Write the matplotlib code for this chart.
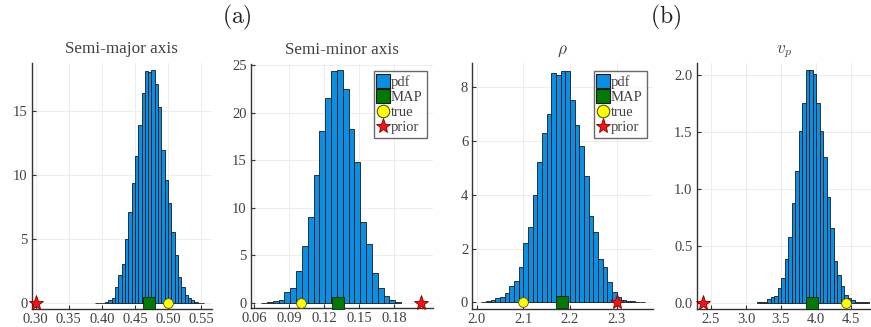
import numpy as np
import matplotlib
matplotlib.use("Agg")
import matplotlib.pyplot as plt
from matplotlib.lines import Line2D

plt.rcParams["font.family"] = "serif"
plt.rcParams["font.serif"] = ["Liberation Serif", "DejaVu Serif"]
plt.rcParams["mathtext.fontset"] = "cm"

BAR_COLOR = "#0a8fe3"
MAP_COLOR = "#007a00"
TRUE_COLOR = "#ffff00"
PRIOR_COLOR = "#ff1010"
TEXT_COLOR = "#404040"

# ---- data ----
titles = ["Semi-major axis", "Semi-minor axis", r"$\rho$", r"$v_p$"]

# semi-major axis
a_start, a_width = 0.390, 0.005
a_heights = [0.01, 0.02, 0.05, 0.1, 0.3, 0.44, 1.28, 2.2, 3.05, 5.05, 7.1,
             9.4, 11.5, 13.9, 16.4, 18.15, 18.07, 18.2, 17.1, 15.3, 12.0,
             9.6, 7.8, 5.6, 3.8, 2.1, 1.3, 0.7, 0.44, 0.25, 0.15, 0.05, 0.02]
a_map, a_true, a_prior = 0.472, 0.50, 0.30

# semi-minor axis
b_start, b_width = 0.066, 0.005
b_heights = [0.02, 0.05, 0.15, 0.3, 1.1, 1.5, 3.3, 6.0, 9.0, 13.5, 18.1,
             21.6, 24.4, 24.5, 22.5, 18.3, 14.8, 8.5, 6.2, 3.1, 1.6, 0.7,
             0.3, 0.05]
b_map, b_true, b_prior = 0.132, 0.10, 0.203

# rho
r_start, r_width = 2.01, 0.01
r_heights = [0.03, 0.06, 0.1, 0.15, 0.2, 0.35, 0.6, 0.8, 1.3, 2.2, 2.8,
             4.0, 5.2, 6.3, 7.0, 8.5, 8.45, 8.6, 8.6, 7.5, 6.6, 5.8, 4.7,
             3.2, 2.6, 1.6, 1.3, 0.75, 0.4, 0.2, 0.1, 0.05, 0.04, 0.02, 0.01]
r_map, r_true, r_prior = 2.182, 2.10, 2.30

# v_p
v_start, v_width = 3.155, 0.05
v_heights = [0.005, 0.005, 0.01, 0.03, 0.05, 0.06, 0.13, 0.22, 0.38, 0.58,
             0.88, 1.16, 1.51, 1.76, 2.05, 2.05, 2.01, 1.76, 1.51, 1.28,
             0.93, 0.66, 0.37, 0.24, 0.15, 0.07, 0.04, 0.02, 0.01, 0.005,
             0.005, 0.005]
v_map, v_true, v_prior = 3.95, 4.43, 2.38

panels = [
    dict(start=a_start, width=a_width, heights=a_heights,
         map=a_map, true=a_true, prior=a_prior,
         xlim=(0.294, 0.566), ylim=(-0.39, 18.75),
         xticks=[0.30, 0.35, 0.40, 0.45, 0.50, 0.55], xfmt="{:.2f}",
         yticks=[0, 5, 10, 15], yfmt="{:.0f}", legend=False,
         box=(31.7, 211.7, 63, 308.5)),
    dict(start=b_start, width=b_width, heights=b_heights,
         map=b_map, true=b_true, prior=b_prior,
         xlim=(0.0574, 0.2134), ylim=(-0.59, 25.2),
         xticks=[0.06, 0.09, 0.12, 0.15, 0.18], xfmt="{:.2f}",
         yticks=[0, 5, 10, 15, 20, 25], yfmt="{:.0f}", legend=True,
         box=(251, 433, 63.5, 308.3)),
    dict(start=r_start, width=r_width, heights=r_heights,
         map=r_map, true=r_true, prior=r_prior,
         xlim=(1.9906, 2.378), ylim=(-0.25, 8.87),
         xticks=[2.0, 2.1, 2.2, 2.3], xfmt="{:.1f}",
         yticks=[0, 2, 4, 6, 8], yfmt="{:.0f}", legend=True,
         box=(472.3, 653, 63.3, 309.2)),
    dict(start=v_start, width=v_width, heights=v_heights,
         map=v_map, true=v_true, prior=v_prior,
         xlim=(2.296, 4.786), ylim=(-0.058, 2.105),
         xticks=[2.5, 3.0, 3.5, 4.0, 4.5], xfmt="{:.1f}",
         yticks=[0.0, 0.5, 1.0, 1.5, 2.0], yfmt="{:.1f}", legend=False,
         box=(696.7, 871, 63.3, 309.3)),
]

W, H = 871, 327
fig = plt.figure(figsize=(W / 100, H / 100), dpi=100)

for title, p in zip(titles, panels):
    left, right, top, bottom = p["box"]
    ax = fig.add_axes([left / W, (H - bottom) / H, (right - left) / W, (bottom - top) / H])

    lefts = p["start"] + p["width"] * np.arange(len(p["heights"]))
    ax.bar(lefts, p["heights"], width=p["width"], align="edge",
           color=BAR_COLOR, edgecolor="#1a1a1a", linewidth=0.6, zorder=2)

    # markers at zero
    ax.plot([p["map"]], [0], marker="s", ms=8, color=MAP_COLOR,
            mec="#1a1a1a", mew=0.6, ls="none", zorder=4, clip_on=False)
    ax.plot([p["true"]], [0], marker="o", ms=7, color=TRUE_COLOR,
            mec="#555500", mew=0.6, ls="none", zorder=4, clip_on=False)
    ax.plot([p["prior"]], [0], marker="*", ms=11, color=PRIOR_COLOR,
            mec="#7a0000", mew=0.6, ls="none", zorder=5, clip_on=False)

    ax.set_xlim(*p["xlim"])
    ax.set_ylim(*p["ylim"])
    ax.set_xticks(p["xticks"])
    ax.set_xticklabels([p["xfmt"].format(t) for t in p["xticks"]])
    ax.set_yticks(p["yticks"])
    ax.set_yticklabels([p["yfmt"].format(t) for t in p["yticks"]])

    ax.grid(True, color="#ededed", linewidth=0.7, zorder=0)
    ax.set_axisbelow(True)
    for side in ("top", "right"):
        ax.spines[side].set_visible(False)
    for side in ("left", "bottom"):
        ax.spines[side].set_color("#333333")
        ax.spines[side].set_linewidth(1.0)
    ax.tick_params(direction="in", length=3, width=0.8, color="#333333",
                   labelsize=10.5, labelcolor=TEXT_COLOR, pad=3)

    ax.set_title(title, fontsize=12.3, color=TEXT_COLOR, pad=7)

    if p["legend"]:
        handles = [
            Line2D([], [], marker="s", ms=9.5, color=BAR_COLOR, mec="#1a1a1a",
                   mew=0.8, ls="none"),
            Line2D([], [], marker="s", ms=9.5, color=MAP_COLOR, mec="#1a1a1a",
                   mew=0.8, ls="none"),
            Line2D([], [], marker="o", ms=9, color=TRUE_COLOR, mec="#555500",
                   mew=0.8, ls="none"),
            Line2D([], [], marker="*", ms=11, color=PRIOR_COLOR, mec="#7a0000",
                   mew=0.6, ls="none"),
        ]
        leg = ax.legend(handles, ["pdf", "MAP", "true", "prior"],
                        loc="upper right", bbox_to_anchor=(0.965, 0.97),
                        fontsize=10.5, frameon=True, fancybox=False,
                        handlelength=0.7, handletextpad=0.15, labelspacing=0.12,
                        borderpad=0.3, borderaxespad=0.0)
        leg.get_frame().set_edgecolor("#444444")
        leg.get_frame().set_linewidth(1.0)
        for t in leg.get_texts():
            t.set_color(TEXT_COLOR)

fig.text(237 / W, 1 - 17 / H, r"$\mathrm{(a)}$", fontsize=17,
         ha="center", va="center", color="#222222")
fig.text(666 / W, 1 - 17 / H, r"$\mathrm{(b)}$", fontsize=17,
         ha="center", va="center", color="#222222")

fig.savefig("out.png", dpi=100)
